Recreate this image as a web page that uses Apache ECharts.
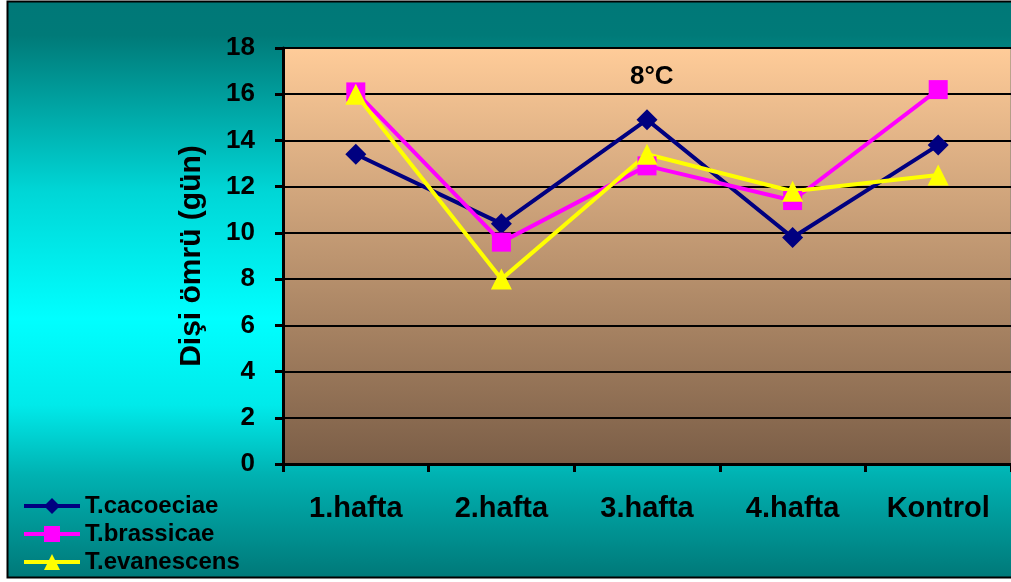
<!DOCTYPE html>
<html>
<head>
<meta charset="utf-8">
<script src="https://cdn.jsdelivr.net/npm/echarts@6/dist/echarts.min.js"></script>
<style>
  html, body { margin: 0; padding: 0; background: #fff; }
  #chart { width: 1011px; height: 582px; }
</style>
</head>
<body>
<div id="chart"></div>
<script>
// categories and values
const weeks = ["1.hafta", "2.hafta", "3.hafta", "4.hafta", "Kontrol"];
const cacoeciae = [13.4, 10.4, 14.9, 9.8, 13.8];
const brassicae = [16.1, 9.6, 12.9, 11.4, 16.2];
const evanescens = [16.0, 8.0, 13.4, 11.8, 12.5];

const FONT = "'Liberation Sans', Arial, sans-serif";

const chart = echarts.init(document.getElementById("chart"));

const lineSeries = (name, data, color, symbol, size) => ({
  name,
  type: "line",
  data,
  symbol,
  symbolSize: size,
  showAllSymbol: true,
  lineStyle: { color, width: 4 },
  itemStyle: { color },
  emphasis: { disabled: true },
});

chart.setOption({
  animation: false,
  backgroundColor: "#ffffff",
  graphic: [
    {
      type: "rect",
      z: -10,
      shape: { x: 7.5, y: 1.5, width: 1010, height: 576 },
      style: {
        stroke: "#000",
        lineWidth: 2,
        fill: {
          type: "linear",
          x: 0, y: 0, x2: 0, y2: 1,
          colorStops: [
            { offset: 0, color: "#007878" },
            { offset: 0.06, color: "#007a78" },
            { offset: 0.33, color: "#00d6d6" },
            { offset: 0.55, color: "#00ffff" },
            { offset: 0.7, color: "#00eaea" },
            { offset: 0.82, color: "#00b2b2" },
            { offset: 1, color: "#007878" },
          ],
        },
      },
    },
  ],
  title: {
    text: "8°C",
    left: 630,
    top: 64,
    padding: 0,
    textStyle: { fontFamily: FONT, fontWeight: "bold", fontSize: 26, color: "#000" },
  },
  legend: {
    orient: "vertical",
    left: 22,
    top: 494,
    padding: 0,
    itemWidth: 56,
    itemHeight: 20,
    itemGap: 4,
    lineStyle: { width: 4 },
    textStyle: { fontFamily: FONT, fontWeight: "bold", fontSize: 24, lineHeight: 24, color: "#000" },
    data: ["T.cacoeciae", "T.brassicae", "T.evanescens"],
  },
  grid: {
    left: 283,
    right: -6,
    top: 48,
    bottom: 118,
    show: true,
    borderColor: "#808080",
    borderWidth: 1,
    backgroundColor: {
      type: "linear",
      x: 0, y: 0, x2: 0, y2: 1,
      colorStops: [
        { offset: 0, color: "#ffcc99" },
        { offset: 1, color: "#7b5e47" },
      ],
    },
  },
  xAxis: {
    type: "category",
    data: weeks,
    boundaryGap: true,
    axisLine: { lineStyle: { color: "#000", width: 3 } },
    axisTick: { show: true, length: 8, interval: 0, lineStyle: { color: "#000", width: 3 } },
    axisLabel: {
      interval: 0,
      margin: 30,
      color: "#000",
      fontFamily: FONT,
      fontWeight: "bold",
      fontSize: 29,
    },
    splitLine: { show: false },
  },
  yAxis: {
    type: "value",
    min: 0,
    max: 18,
    interval: 2,
    name: "Dişi ömrü (gün)",
    nameLocation: "middle",
    nameGap: 76,
    nameTextStyle: { fontFamily: FONT, fontWeight: "bold", fontSize: 30, color: "#000" },
    axisLine: { show: true, lineStyle: { color: "#000", width: 3 } },
    axisTick: { show: true, length: 8, lineStyle: { color: "#000", width: 3 } },
    axisLabel: {
      margin: 28,
      color: "#000",
      fontFamily: FONT,
      fontWeight: "bold",
      fontSize: 26,
    },
    splitLine: { lineStyle: { color: "#000", width: 2 } },
  },
  series: [
    lineSeries("T.cacoeciae", cacoeciae, "#000080", "diamond", 21),
    lineSeries("T.brassicae", brassicae, "#ff00ff", "rect", 19),
    lineSeries("T.evanescens", evanescens, "#ffff00", "triangle", 21),
  ],
});
</script>
</body>
</html>
